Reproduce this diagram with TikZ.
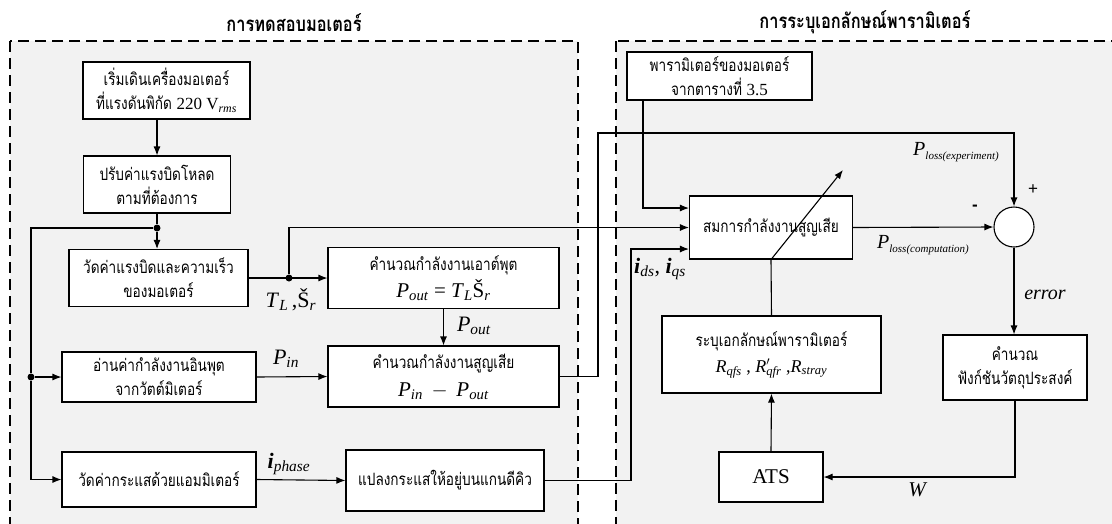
\documentclass[tikz,border=0pt]{standalone}
\usepackage{fontspec}
\setmainfont{Liberation Serif}
\newfontfamily\thai[Script=Thai,FakeStretch=0.8]{Loma}
\newfontfamily\signfont{Liberation Sans}
\usetikzlibrary{arrows.meta, calc, positioning}
\definecolor{panel}{HTML}{F2F2F2}
\newcommand\qsub[2]{\textit{#1}\textsubscript{\textit{#2}}}
\newcommand\losslbl[1]{\textit{P}\raisebox{-4pt}{\fontsize{11}{11}\selectfont\itshape #1}}
\tikzset{
    box/.style={draw, fill=white, line width=1.1pt, inner sep=0pt, align=center, font=\thai\fontsize{17}{24}\selectfont},
    joint/.style={circle, fill, inner sep=0pt, minimum size=7pt},
    panelbox/.style={draw, fill=panel, line width=1.1pt, dash pattern=on 11pt off 6pt},
    lbl/.style={inner sep=0pt, font=\fontsize{22}{24}\selectfont},
    heading/.style={font=\thai\bfseries\fontsize{20.5}{22}\selectfont}
}

\begin{document}
\begin{tikzpicture}[x=1pt, y=-1pt, line width=1.1pt, >={Latex[length=9pt,width=7pt]}]
                        \clip (0,0) rectangle (1112,523);
                        \fill[white] (0,0) rectangle (1112,523);
                        \draw[panelbox] (10,41) rectangle (578,545);
                        \draw[panelbox] (616,41) rectangle (1130,545);
                        \node[heading] (testhead) at (294,23) {การทดสอบมอเตอร์};
                        \node[heading] (idhead) at (865,22) {การระบุเอกลักษณ์พารามิเตอร์};
                        \node[box, minimum width=167pt, minimum height=57pt] (start) at (166.5,90.5) {เริ่มเดินเครื่องมอเตอร์\\ที่แรงดันพิกัด {\rmfamily 220 V\textsubscript{\textit{rms}}}};
                        \node[box, minimum width=147pt, minimum height=57pt] (load) at (157,184.5) {ปรับค่าแรงบิดโหลด\\ตามที่ต้องการ};
                        \node[box, minimum width=179pt, minimum height=57pt] (speed) at (158.5,278) {วัดค่าแรงบิดและความเร็ว\\ของมอเตอร์};
                        \node[box, minimum width=194pt, minimum height=50pt] (watt) at (159,377) {อ่านค่ากำลังงานอินพุต\\จากวัตต์มิเตอร์};
                        \node[box, minimum width=194pt, minimum height=55pt] (amp) at (159,479.5) {วัดค่ากระแสด้วยแอมมิเตอร์};
                        \node[box, minimum width=231pt, minimum height=61pt] (pout) at (443.5,278) {คำนวณกำลังงานเอาต์พุต\\[3pt]{\rmfamily\fontsize{21}{24}\selectfont \qsub{P}{out} = \qsub{T}{L}Š\textsubscript{\textit{r}}}};
                        \node[box, minimum width=231pt, minimum height=61pt] (ploss) at (443.5,376.5) {คำนวณกำลังงานสูญเสีย\\[4pt]{\rmfamily\fontsize{21}{24}\selectfont \qsub{P}{in} \,$-$\, \qsub{P}{out}}};
                        \node[box, minimum width=198pt, minimum height=61pt] (dq) at (445,480.5) {แปลงกระแสให้อยู่บนแกนดีคิว};
                        \node[box, minimum width=185pt, minimum height=48pt] (table) at (719.5,76) {พารามิเตอร์ของมอเตอร์\\จากตารางที่ {\rmfamily 3.5}};
                        \node[box, minimum width=163pt, minimum height=63pt] (losseq) at (771,227.5) {สมการกำลังงานสูญเสีย};
                        \node[box, minimum width=219pt, minimum height=77pt] (ident) at (771.5,354.5) {ระบุเอกลักษณ์พารามิเตอร์\\[2pt]{\rmfamily\fontsize{18}{20}\selectfont \qsub{R}{qfs} , \textit{R}\rlap{$'$}\textsubscript{\textit{qfr}} ,\qsub{R}{stray}}};
                        \node[box, minimum width=104pt, minimum height=50pt, font=\fontsize{21}{24}\selectfont] (ats) at (771,477) {ATS};
                        \node[box, minimum width=144pt, minimum height=65pt] (cost) at (1015,367.5) {คำนวณ\\ฟังก์ชันวัตถุประสงค์};
                        \node[draw, circle, fill=white, minimum size=40pt, inner sep=0pt] (sum) at (1014,227) {};
                        \node[joint] (split) at (157,228) {};
                        \node[joint] (rail) at (31,377) {};
                        \node[joint] (tap) at (289,278) {};
                        \coordinate (lossup) at (598,133);
                        \coordinate (dqup) at (631,249);
                        \coordinate (parup) at (643,208);
                        \coordinate (tune) at (843,170);
                        \draw[->] (start.south -| load.north) -- (load.north);
                        \draw (load.south) -- (split);
                        \draw[->] (split) -- (split |- speed.north);
                        \draw (split) -| (rail);
                        \draw[->] (rail) -- (watt.west);
                        \draw[->] (rail) |- (amp.west);
                        \draw[->] (speed.east) -- (pout.west);
                        \draw[->] (tap) |- (losseq.west);
                        \draw[->] (pout.south) -- (ploss.north);
                        \draw[->] (watt.east) -- (ploss.west);
                        \draw[->] (amp.east) -- (dq.west);
                        \draw[->] (ploss.east) -| (lossup) -| (sum.north);
                        \draw[->] (dq.east) -| (dqup) -- (dqup -| losseq.west);
                        \draw[->] (parup |- table.south) |- (parup -| losseq.west);
                        \draw[->] (losseq.east) -- (sum.west);
                        \draw[->] (sum.south) -- (sum.south |- cost.north);
                        \draw[->] (cost.south) |- (ats.east);
                        \draw[->] (ats.north) -- (ident.south);
                        \draw (ident.north) -- (losseq.south);
                        \draw[->] (losseq.south) -- (tune);
                        \node[lbl] (torque) at (291,300) {\qsub{T}{L}\,,Š\textsubscript{\textit{r}}};
                        \node[lbl] (poutlbl) at (474,326) {\qsub{P}{out}};
                        \node[lbl] (pinlbl) at (286,359) {\qsub{P}{in}};
                        \node[lbl] (iphase) at (289,464) {\textbf{\textit{i}}\textsubscript{\textit{phase}}};
                        \node[lbl] (idq) at (660,269) {\textbf{\textit{i}}\textsubscript{\textit{ds}}, \textbf{\textit{i}}\textsubscript{\textit{qs}}};
                        \node[lbl, font=\fontsize{20}{20}\selectfont] (pexp) at (956,152) {\losslbl{loss(experiment)}};
                        \node[lbl, font=\fontsize{20}{20}\selectfont] (pcomp) at (923,245) {\losslbl{loss(computation)}};
                        \node[lbl, font=\fontsize{20}{20}\selectfont\itshape] (err) at (1045,295) {error};
                        \node[lbl, font=\fontsize{21}{24}\selectfont\itshape] (wlbl) at (917,490) {W};
                        \node[lbl, font=\signfont\fontsize{17}{18}\selectfont] (plus) at (1033,190) {+};
                        \node[lbl, font=\signfont\bfseries\fontsize{17}{18}\selectfont] (minus) at (975,208) {-};
                    \end{tikzpicture}
\end{document}
